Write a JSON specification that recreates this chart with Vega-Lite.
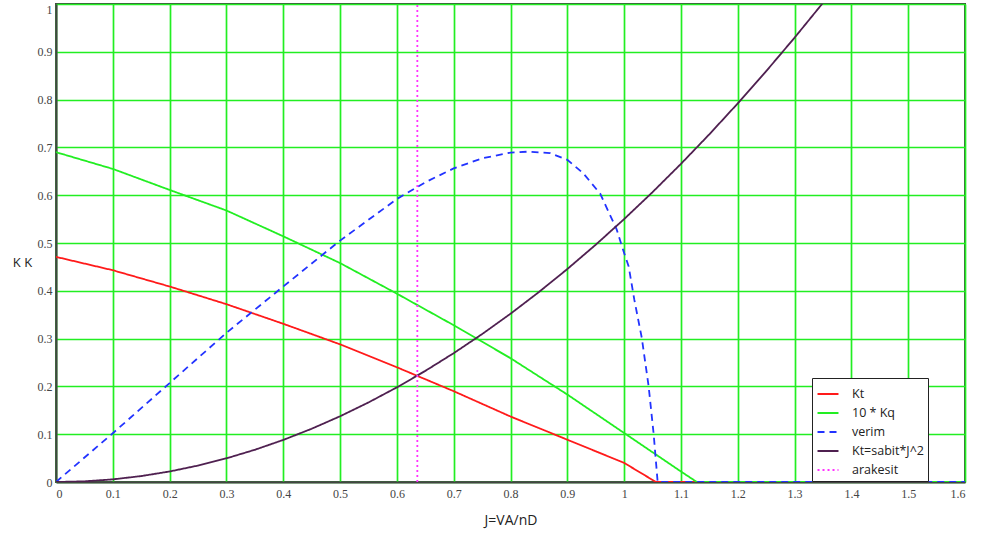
{
  "$schema": "https://vega.github.io/schema/vega-lite/v6.json",
  "autosize": {"type": "none"},
  "width": 909,
  "height": 478,
  "padding": {"left": 56, "top": 4, "right": 17, "bottom": 57},
  "background": "white",
  "config": {
    "view": {"stroke": "#444444", "strokeWidth": 2},
    "axis": {
      "grid": true,
      "gridColor": "#22ee22",
      "gridWidth": 1.7,
      "gridOpacity": 1,
      "domainColor": "#444444",
      "domainWidth": 2,
      "ticks": false,
      "labelFont": "Liberation Serif",
      "labelFontSize": 12,
      "labelColor": "#444444",
      "titleFont": "Open Sans",
      "titleFontWeight": "normal",
      "titleColor": "#222222",
      "titleFontSize": 14
    }
  },
  "data": {
    "values": [
      {"J": 0, "K": 0.471, "series": "Kt"},
      {"J": 0.1, "K": 0.443, "series": "Kt"},
      {"J": 0.2, "K": 0.409, "series": "Kt"},
      {"J": 0.3, "K": 0.372, "series": "Kt"},
      {"J": 0.4, "K": 0.331, "series": "Kt"},
      {"J": 0.5, "K": 0.288, "series": "Kt"},
      {"J": 0.6, "K": 0.24, "series": "Kt"},
      {"J": 0.7, "K": 0.19, "series": "Kt"},
      {"J": 0.8, "K": 0.137, "series": "Kt"},
      {"J": 0.9, "K": 0.0885, "series": "Kt"},
      {"J": 1.0, "K": 0.04, "series": "Kt"},
      {"J": 1.056, "K": 0, "series": "Kt"},
      {"J": 1.6, "K": 0, "series": "Kt"},

      {"J": 0, "K": 0.69, "series": "10 * Kq"},
      {"J": 0.1, "K": 0.655, "series": "10 * Kq"},
      {"J": 0.2, "K": 0.611, "series": "10 * Kq"},
      {"J": 0.3, "K": 0.568, "series": "10 * Kq"},
      {"J": 0.4, "K": 0.514, "series": "10 * Kq"},
      {"J": 0.5, "K": 0.458, "series": "10 * Kq"},
      {"J": 0.6, "K": 0.394, "series": "10 * Kq"},
      {"J": 0.7, "K": 0.328, "series": "10 * Kq"},
      {"J": 0.8, "K": 0.259, "series": "10 * Kq"},
      {"J": 0.9, "K": 0.183, "series": "10 * Kq"},
      {"J": 1.0, "K": 0.1025, "series": "10 * Kq"},
      {"J": 1.1, "K": 0.022, "series": "10 * Kq"},
      {"J": 1.128, "K": 0, "series": "10 * Kq"},
      {"J": 1.6, "K": 0, "series": "10 * Kq"},

      {"J": 0, "K": 0, "series": "verim"},
      {"J": 0.1, "K": 0.102, "series": "verim"},
      {"J": 0.2, "K": 0.207, "series": "verim"},
      {"J": 0.3, "K": 0.312, "series": "verim"},
      {"J": 0.4, "K": 0.409, "series": "verim"},
      {"J": 0.5, "K": 0.505, "series": "verim"},
      {"J": 0.6, "K": 0.592, "series": "verim"},
      {"J": 0.65, "K": 0.627, "series": "verim"},
      {"J": 0.7, "K": 0.656, "series": "verim"},
      {"J": 0.75, "K": 0.677, "series": "verim"},
      {"J": 0.8, "K": 0.689, "series": "verim"},
      {"J": 0.83, "K": 0.691, "series": "verim"},
      {"J": 0.87, "K": 0.688, "series": "verim"},
      {"J": 0.9, "K": 0.674, "series": "verim"},
      {"J": 0.928, "K": 0.646, "series": "verim"},
      {"J": 0.958, "K": 0.603, "series": "verim"},
      {"J": 0.987, "K": 0.528, "series": "verim"},
      {"J": 1.0, "K": 0.479, "series": "verim"},
      {"J": 1.008, "K": 0.451, "series": "verim"},
      {"J": 1.018, "K": 0.381, "series": "verim"},
      {"J": 1.031, "K": 0.302, "series": "verim"},
      {"J": 1.043, "K": 0.2015, "series": "verim"},
      {"J": 1.052, "K": 0.1, "series": "verim"},
      {"J": 1.059, "K": 0, "series": "verim"},
      {"J": 1.6, "K": 0, "series": "verim"},

      {"J": 0, "K": 0, "series": "Kt=sabit*J^2"},
      {"J": 0.05, "K": 0.0014, "series": "Kt=sabit*J^2"},
      {"J": 0.1, "K": 0.0055, "series": "Kt=sabit*J^2"},
      {"J": 0.15, "K": 0.0124, "series": "Kt=sabit*J^2"},
      {"J": 0.2, "K": 0.022, "series": "Kt=sabit*J^2"},
      {"J": 0.25, "K": 0.0344, "series": "Kt=sabit*J^2"},
      {"J": 0.3, "K": 0.0495, "series": "Kt=sabit*J^2"},
      {"J": 0.35, "K": 0.0674, "series": "Kt=sabit*J^2"},
      {"J": 0.4, "K": 0.088, "series": "Kt=sabit*J^2"},
      {"J": 0.45, "K": 0.1114, "series": "Kt=sabit*J^2"},
      {"J": 0.5, "K": 0.1375, "series": "Kt=sabit*J^2"},
      {"J": 0.55, "K": 0.1664, "series": "Kt=sabit*J^2"},
      {"J": 0.6, "K": 0.198, "series": "Kt=sabit*J^2"},
      {"J": 0.65, "K": 0.2324, "series": "Kt=sabit*J^2"},
      {"J": 0.7, "K": 0.2695, "series": "Kt=sabit*J^2"},
      {"J": 0.75, "K": 0.3094, "series": "Kt=sabit*J^2"},
      {"J": 0.8, "K": 0.352, "series": "Kt=sabit*J^2"},
      {"J": 0.85, "K": 0.3974, "series": "Kt=sabit*J^2"},
      {"J": 0.9, "K": 0.4455, "series": "Kt=sabit*J^2"},
      {"J": 0.95, "K": 0.4964, "series": "Kt=sabit*J^2"},
      {"J": 1.0, "K": 0.55, "series": "Kt=sabit*J^2"},
      {"J": 1.05, "K": 0.6064, "series": "Kt=sabit*J^2"},
      {"J": 1.1, "K": 0.6655, "series": "Kt=sabit*J^2"},
      {"J": 1.15, "K": 0.7274, "series": "Kt=sabit*J^2"},
      {"J": 1.2, "K": 0.792, "series": "Kt=sabit*J^2"},
      {"J": 1.25, "K": 0.8594, "series": "Kt=sabit*J^2"},
      {"J": 1.3, "K": 0.9295, "series": "Kt=sabit*J^2"},
      {"J": 1.35, "K": 1.0024, "series": "Kt=sabit*J^2"},

      {"J": 0.636, "K": 0, "series": "arakesit"},
      {"J": 0.636, "K": 1, "series": "arakesit"}
    ]
  },
  "mark": {"type": "line", "strokeWidth": 1.8, "clip": true},
  "encoding": {
    "x": {
      "field": "J",
      "type": "quantitative",
      "title": "J=VA/nD",
      "scale": {"domain": [0, 1.6], "nice": false, "zero": false},
      "axis": {
        "values": [0, 0.1, 0.2, 0.3, 0.4, 0.5, 0.6, 0.7, 0.8, 0.9, 1, 1.1, 1.2, 1.3, 1.4, 1.5, 1.6],
        "format": "~g",
        "labelPadding": 6,
        "titlePadding": 14
      }
    },
    "y": {
      "field": "K",
      "type": "quantitative",
      "title": "K K",
      "scale": {"domain": [0, 1], "nice": false},
      "axis": {
        "values": [0, 0.1, 0.2, 0.3, 0.4, 0.5, 0.6, 0.7, 0.8, 0.9, 1],
        "format": "~g",
        "labelPadding": 4,
        "labelBaseline": {"condition": {"test": "datum.value == 1", "value": "top"}, "value": "middle"},
        "titleAngle": 0,
        "titleAlign": "center",
        "titleBaseline": "middle",
        "titleX": -34,
        "titleY": 258,
        "titleFontSize": 13
      }
    },
    "color": {
      "field": "series",
      "type": "nominal",
      "scale": {
        "domain": ["Kt", "10 * Kq", "verim", "Kt=sabit*J^2", "arakesit"],
        "range": ["#ff1a1a", "#22ee22", "#2233ff", "#4f2050", "#ff33ff"]
      },
      "legend": {
        "title": null,
        "orient": "none",
        "legendX": 756,
        "legendY": 374,
        "direction": "vertical",
        "strokeColor": "#222222",
        "fillColor": "white",
        "padding": 4,
        "symbolType": "stroke",
        "symbolSize": 440,
        "symbolStrokeWidth": 2.2,
        "rowPadding": 0,
        "labelFont": "Open Sans",
        "labelFontSize": 12.5,
        "labelColor": "#222222",
        "labelOffset": 12
      }
    },
    "strokeDash": {
      "field": "series",
      "type": "nominal",
      "scale": {
        "domain": ["Kt", "10 * Kq", "verim", "Kt=sabit*J^2", "arakesit"],
        "range": [[1, 0], [1, 0], [7, 5], [1, 0], [2, 3]]
      },
      "legend": null
    },
    "order": {"field": "J", "type": "quantitative"}
  }
}
